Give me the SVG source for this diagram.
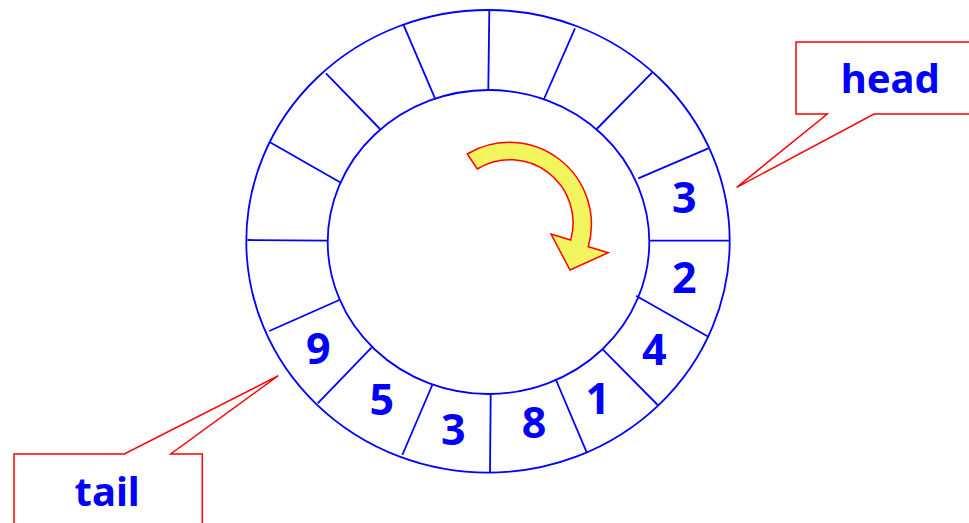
<svg xmlns="http://www.w3.org/2000/svg" width="969" height="523" viewBox="0 0 969 523">
<style>
.ring{fill:none;stroke:#0000FF;stroke-width:1.8}
.div{stroke:#0000FF;stroke-width:1.8}
.num{font-family:"Noto Sans","DejaVu Sans",sans-serif;font-weight:bold;font-size:43px;fill:#0000FF;text-anchor:middle}
.lbl{font-family:"Noto Sans","DejaVu Sans",sans-serif;font-weight:bold;font-size:40px;fill:#0000FF;text-anchor:middle}
.callout{fill:#FFFFFF;stroke:#FF0000;stroke-width:1.5}
</style>
<rect width="969" height="523" fill="#FFFFFF"/>
<g id="ring">
<ellipse class="ring" cx="488" cy="241.3" rx="241.7" ry="231.3"/>
<ellipse class="ring" cx="488.5" cy="242" rx="160.8" ry="152"/>
<line class="div" x1="649.3" y1="240.7" x2="729.3" y2="240.7"/>
<line class="div" x1="638.3" y1="178.3" x2="708.3" y2="148.3"/>
<line class="div" x1="596.7" y1="129" x2="652.3" y2="72.3"/>
<line class="div" x1="544" y1="99" x2="575" y2="28.3"/>
<line class="div" x1="488.3" y1="90" x2="489.3" y2="10.7"/>
<line class="div" x1="435" y1="98.3" x2="403.3" y2="24.3"/>
<line class="div" x1="380" y1="129" x2="326" y2="73.3"/>
<line class="div" x1="340" y1="182.3" x2="270" y2="142.3"/>
<line class="div" x1="327.7" y1="240.7" x2="247.3" y2="240"/>
<line class="div" x1="339.3" y1="300" x2="269.3" y2="331"/>
<line class="div" x1="371.7" y1="347.3" x2="317.7" y2="403.3"/>
<line class="div" x1="432.3" y1="385" x2="402.3" y2="455"/>
<line class="div" x1="490.7" y1="394" x2="490" y2="472.7"/>
<line class="div" x1="556" y1="380" x2="586.7" y2="452.3"/>
<line class="div" x1="602.7" y1="349.3" x2="657.7" y2="405"/>
<line class="div" x1="636" y1="295.7" x2="708.3" y2="336.7"/>
</g>
<g id="cells">
<text class="num" x="684.3" y="213">3</text>
<text class="num" x="684.3" y="293">2</text>
<text class="num" x="654.3" y="365">4</text>
<text class="num" x="597.7" y="414">1</text>
<text class="num" x="534" y="438">8</text>
<text class="num" x="453.3" y="445">3</text>
<text class="num" x="381.7" y="415">5</text>
<text class="num" x="318.3" y="364">9</text>
</g>
<g id="head">
<polygon class="callout" points="796,42 975,42 975,114 874,114 736.7,187.3 827.3,114 796,114"/>
<text class="lbl" x="890.3" y="93">head</text>
</g>
<g id="tail">
<polygon class="callout" points="14,454 124.3,454 278.3,375.7 170.7,454 202.3,454 202.3,530 14,530"/>
<text class="lbl" x="107.2" y="505.7">tail</text>
</g>
<g id="connectors">
<path d="M467.3,154 A82,82 0 0 1 588.3,246.7 L608.3,252.7 L570,270 L551,234 L570.7,240 A63,63 0 0 0 477.3,169 Z" fill="#F2F55E" stroke="#FF0000" stroke-width="1.5" stroke-linejoin="miter"/>
</g>
</svg>
